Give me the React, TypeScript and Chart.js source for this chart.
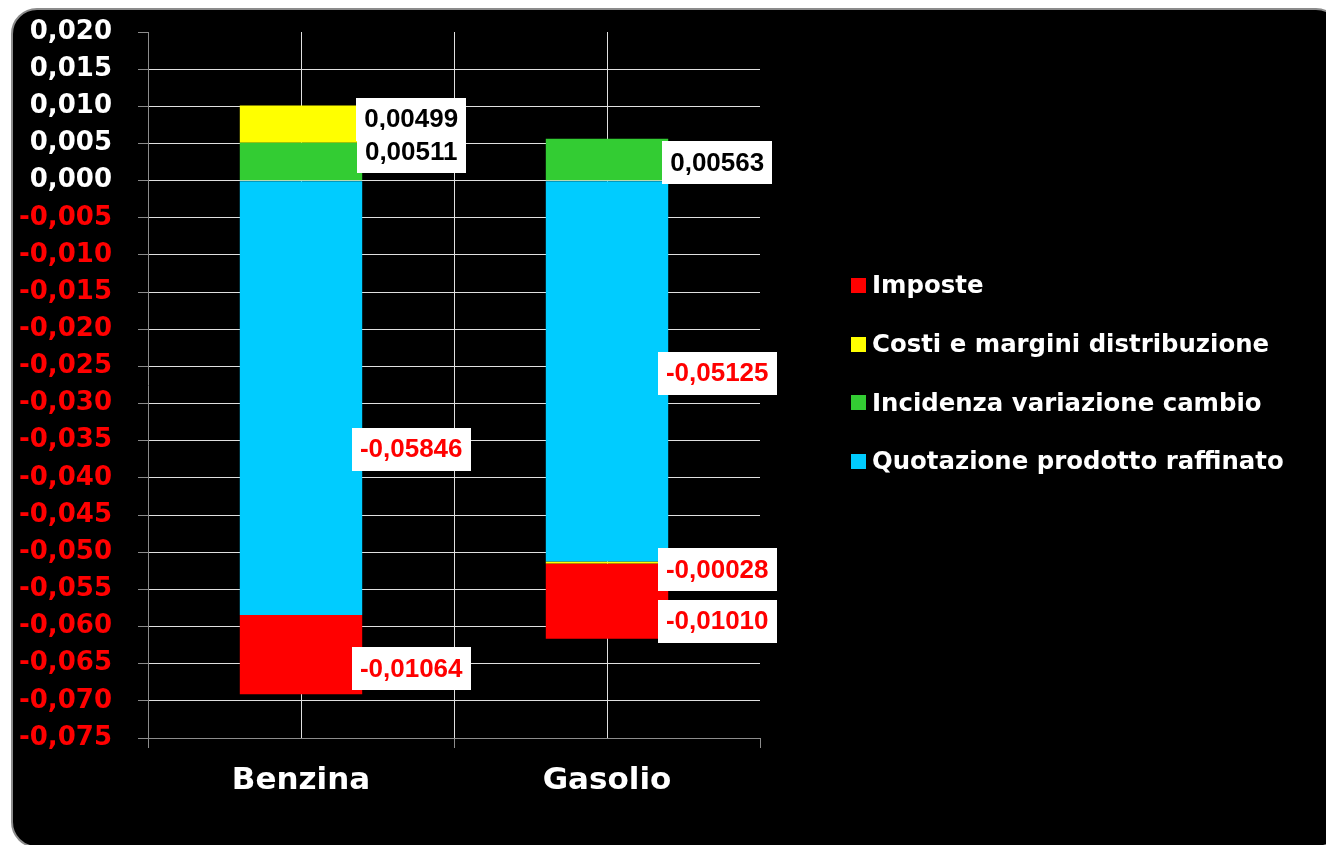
import { useEffect, useRef } from 'react';
import { Chart, registerables } from 'chart.js';

Chart.register(...registerables);

// ---- data ----
const categories = ['Benzina', 'Gasolio'];
const seriesNames = [
  'Quotazione prodotto raffinato',
  'Incidenza variazione cambio',
  'Costi e margini distribuzione',
  'Imposte',
];
const quotazione = [-0.05846, -0.05125];
const incidenza = [0.00511, 0.00563];
const costi = [0.00499, -0.00028];
const imposte = [-0.01064, -0.0101];
const seriesColors = ['#00CCFF', '#33CC33', '#FFFF00', '#FF0000'];

const yMin = -0.075;
const yMax = 0.02;
const yStep = 0.005;

// vertical nudges (px) of the value labels, relative to each segment's centre
const labelNudge = [
  [51, 2],
  [-10, 3],
  [-5, 7],
  [14, 20],
];

const AXIS_FONT = '"DejaVu Sans", Verdana, sans-serif';
const LABEL_FONT = '"Liberation Sans", Arial, sans-serif';

const fmtTick = (v: number) => {
  let r = Math.round(v * 1000) / 1000;
  if (Math.abs(r) < 1e-9) r = 0;
  return r.toFixed(3).replace('.', ',');
};

const centreLines = {
  id: 'centreLines',
  beforeDatasetsDraw(chart: any) {
    const { ctx, chartArea, scales } = chart;
    ctx.save();
    ctx.strokeStyle = '#e0e0e0';
    ctx.lineWidth = 1;
    categories.forEach((_, i) => {
      const x = Math.round(scales.x.getPixelForValue(i)) + 0.5;
      ctx.beginPath();
      ctx.moveTo(x, chartArea.top);
      ctx.lineTo(x, chartArea.bottom);
      ctx.stroke();
    });
    ctx.restore();
  },
};

const valueLabels = {
  id: 'valueLabels',
  afterDatasetsDraw(chart: any) {
    const ctx = chart.ctx;
    ctx.save();
    ctx.font = `bold 26px ${LABEL_FONT}`;
    ctx.textAlign = 'center';
    ctx.textBaseline = 'middle';
    for (let d = chart.data.datasets.length - 1; d >= 0; d--) {
      const meta = chart.getDatasetMeta(d);
      meta.data.forEach((bar: any, i: number) => {
        const v = chart.data.datasets[d].data[i] as number;
        const { x, y, base, width } = bar.getProps(['x', 'y', 'base', 'width'], true);
        const cx = x + width / 2 + 49;
        const cy = (y + base) / 2 + labelNudge[d][i];
        const text = v.toFixed(5).replace('.', ',');
        const tw = ctx.measureText(text).width;
        const bw = Math.round(tw + 16);
        const bh = 43;
        ctx.fillStyle = '#FFFFFF';
        ctx.fillRect(Math.round(cx - bw / 2), Math.round(cy - bh / 2), bw, bh);
        ctx.fillStyle = v < 0 ? '#FF0000' : '#000000';
        ctx.fillText(text, cx, cy + 1);
      });
    }
    ctx.restore();
  },
};

const sideLegend = {
  id: 'sideLegend',
  afterDraw(chart: any) {
    const ctx = chart.ctx;
    const left = chart.chartArea.right + 91;
    ctx.save();
    ctx.font = `bold 24.4px ${AXIS_FONT}`;
    ctx.textAlign = 'left';
    ctx.textBaseline = 'middle';
    const n = chart.data.datasets.length;
    for (let k = 0; k < n; k++) {
      const ds = chart.data.datasets[n - 1 - k];
      const cy = 285.5 + k * 58.7;
      ctx.fillStyle = ds.backgroundColor;
      ctx.fillRect(left, Math.round(cy - 7.5), 15, 15);
      ctx.fillStyle = '#FFFFFF';
      ctx.fillText(ds.label, left + 21, cy + 1.5);
    }
    ctx.restore();
  },
};

export default function App() {
  const ref = useRef<HTMLCanvasElement | null>(null);

  useEffect(() => {
    if (!ref.current) return;
    const seriesValues = [quotazione, incidenza, costi, imposte];
    const chart = new Chart(ref.current, {
      type: 'bar',
      data: {
        labels: categories,
        datasets: seriesNames.map((name, k) => ({
          label: name,
          data: seriesValues[k],
          backgroundColor: seriesColors[k],
          borderWidth: 0,
          barPercentage: 0.4,
          categoryPercentage: 1,
        })),
      },
      options: {
        responsive: false,
        animation: false,
        devicePixelRatio: 1,
        layout: { padding: { top: 32, left: 0, right: 566, bottom: 0 } },
        plugins: {
          legend: { display: false },
          tooltip: { enabled: false },
        },
        scales: {
          x: {
            stacked: true,
            offset: true,
            afterFit: (s: any) => {
              s.height = 107;
              s.paddingLeft = 0;
              s.paddingRight = 0;
            },
            ticks: {
              color: '#FFFFFF',
              font: { family: AXIS_FONT, weight: 'bold', size: 31 },
              padding: 14,
            },
            grid: {
              offset: true,
              color: (c: any) => (c.index === 1 ? '#e0e0e0' : 'transparent'),
              tickColor: '#8c8c8c',
              tickLength: 10,
              lineWidth: 1,
            },
            border: { color: '#8c8c8c', width: 1 },
          },
          y: {
            stacked: true,
            min: yMin,
            max: yMax,
            afterFit: (s: any) => {
              s.width = 148;
              s.paddingTop = 0;
              s.paddingBottom = 0;
            },
            ticks: {
              stepSize: yStep,
              padding: 26,
              color: (c: any) => (c.tick && c.tick.value < -1e-9 ? '#FF0000' : '#FFFFFF'),
              font: { family: AXIS_FONT, weight: 'bold', size: 26 },
              callback: (v: any) => fmtTick(Number(v)),
            },
            grid: {
              color: (c: any) =>
                c.tick && c.tick.value >= yMax - 1e-9 ? 'transparent' : '#e0e0e0',
              tickColor: '#8c8c8c',
              tickLength: 10,
              lineWidth: 1,
            },
            border: { color: '#8c8c8c', width: 1 },
          },
        },
      },
      plugins: [centreLines, valueLabels, sideLegend],
    });
    return () => chart.destroy();
  }, []);

  return (
    <div
      style={{
        position: 'fixed',
        left: 0,
        top: 0,
        width: 1326,
        height: 845,
        background: '#FFFFFF',
        overflow: 'hidden',
      }}
    >
      <div
        style={{
          position: 'absolute',
          left: 11,
          top: 8,
          width: 1331,
          height: 840,
          background: '#000000',
          border: '2px solid #8c8c8c',
          borderRadius: 26,
          boxSizing: 'border-box',
        }}
      />
      <canvas
        ref={ref}
        width={1326}
        height={845}
        style={{ position: 'absolute', left: 0, top: 0, width: 1326, height: 845 }}
      />
    </div>
  );
}
